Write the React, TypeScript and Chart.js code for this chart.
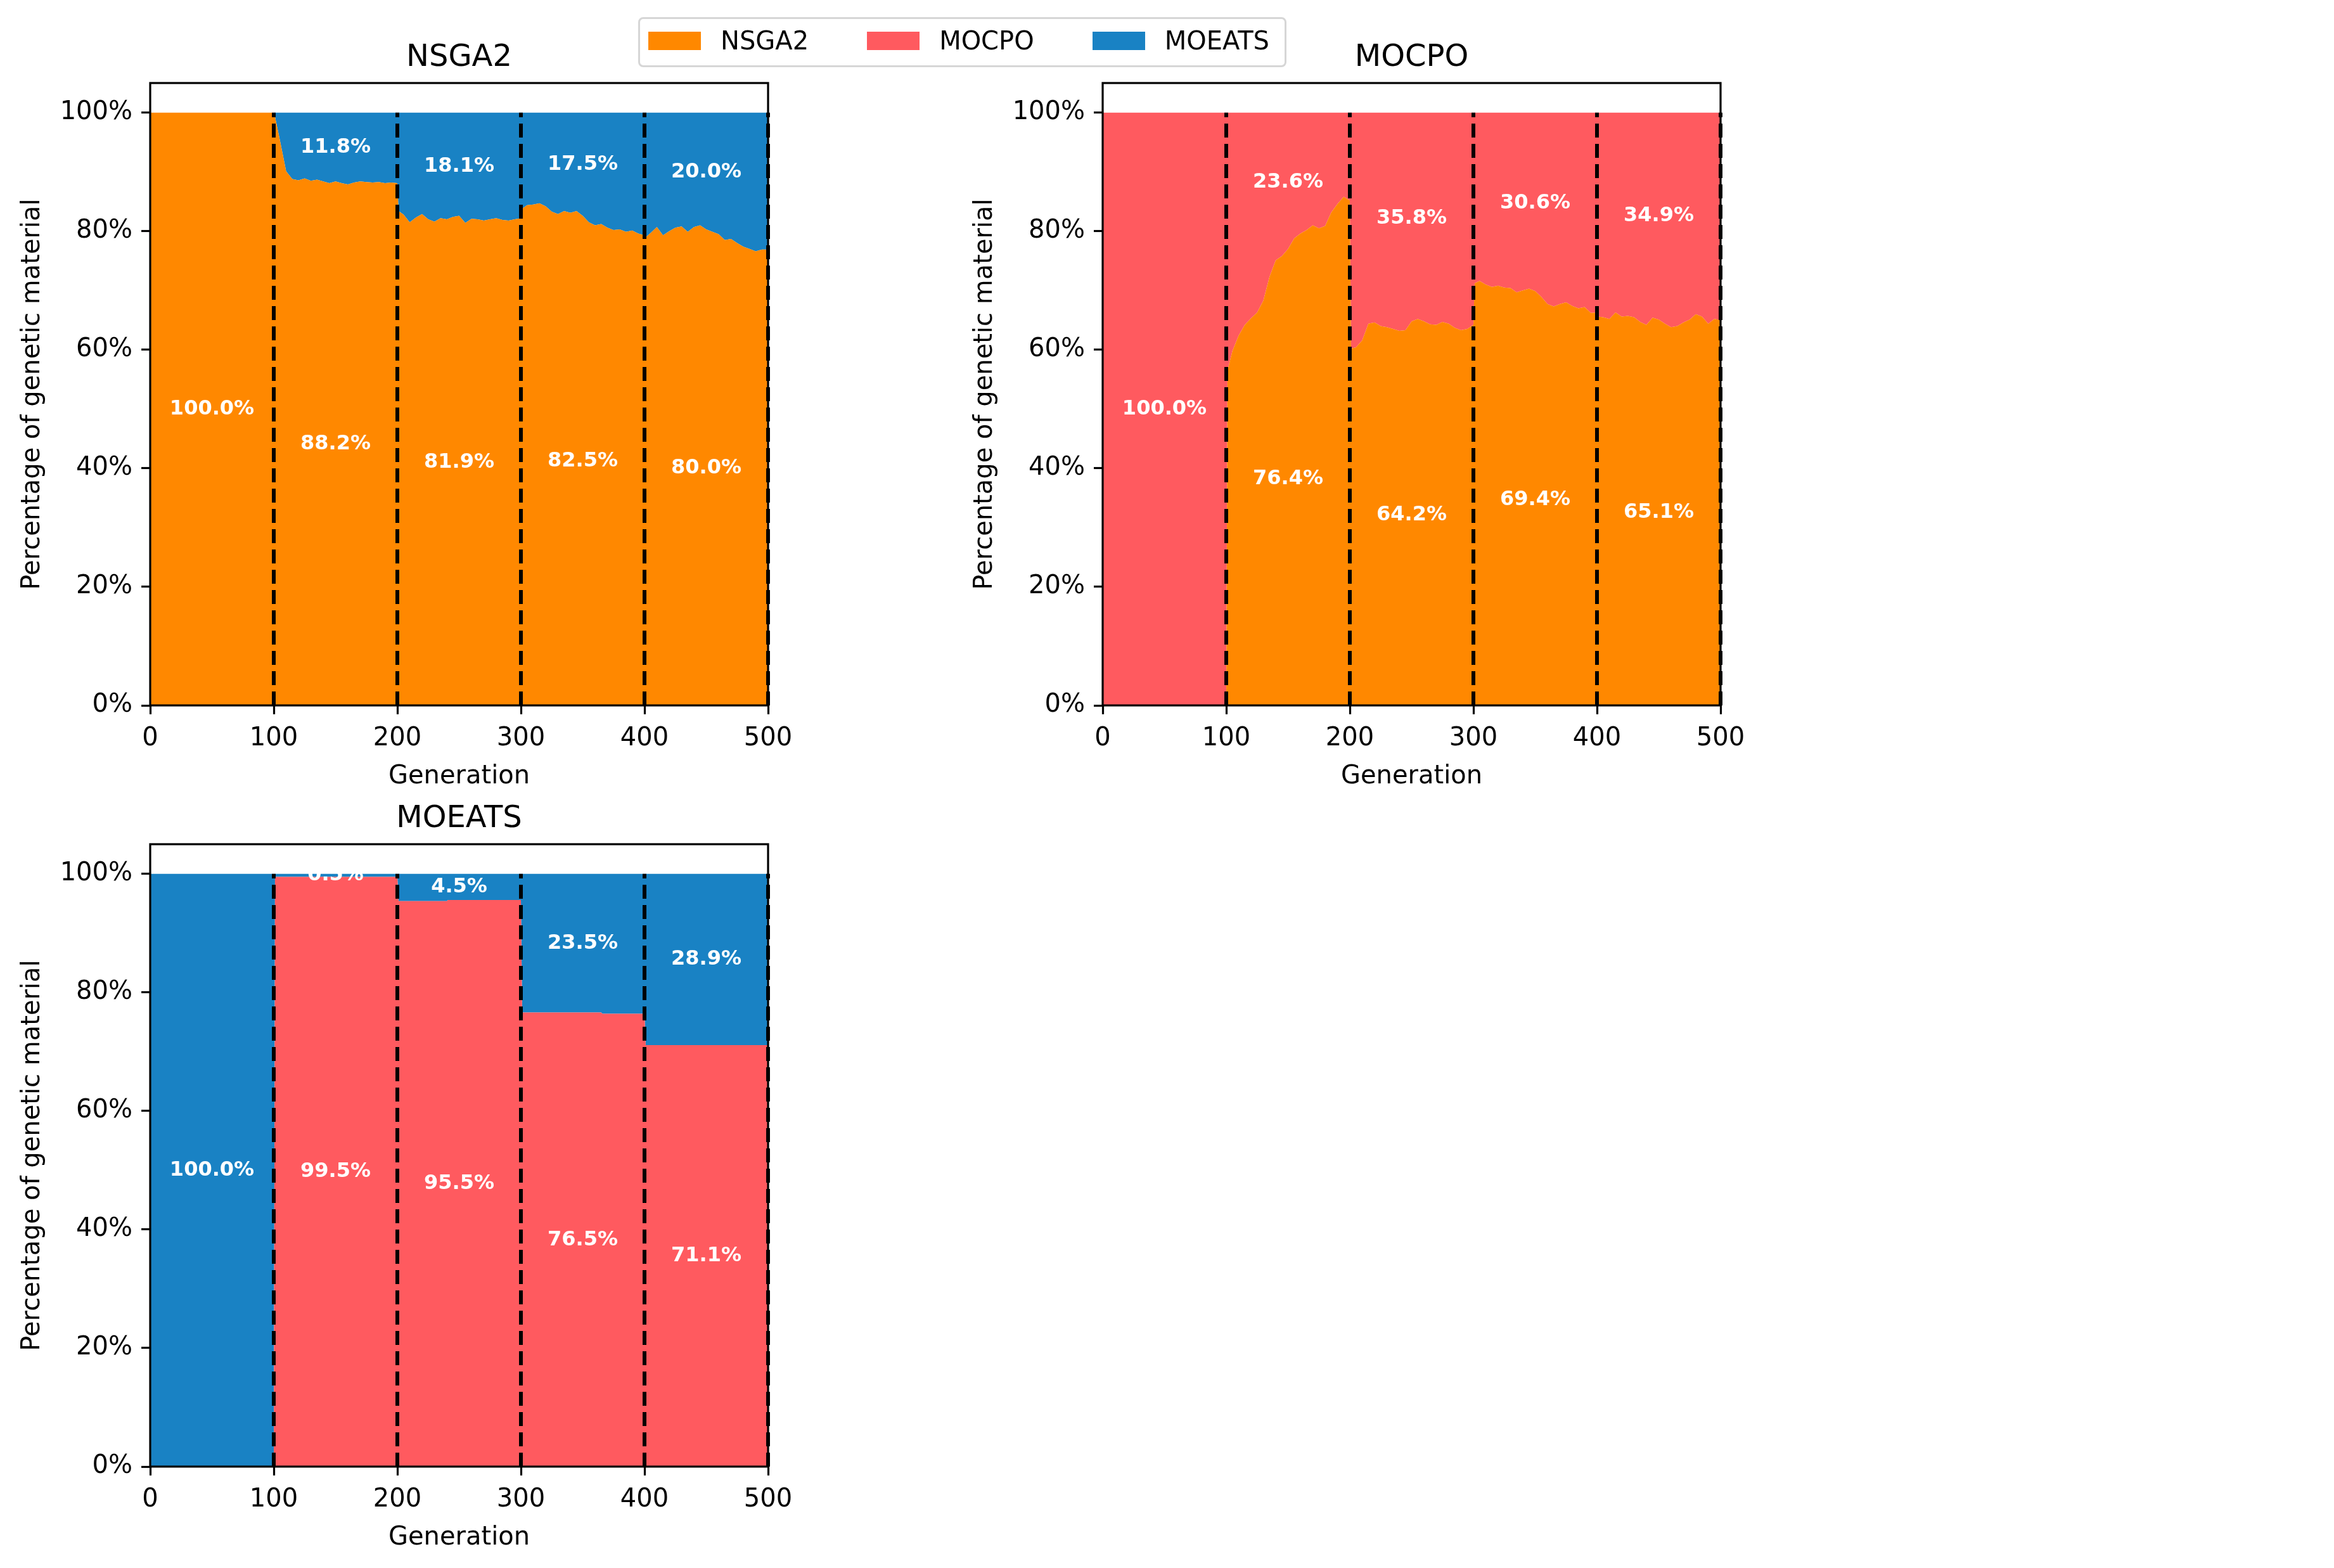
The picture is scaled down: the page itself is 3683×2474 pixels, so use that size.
import React, { useEffect, useRef } from 'react';
import { Chart, registerables } from 'chart.js';

Chart.register(...registerables);
Chart.defaults.font.family = "'DejaVu Sans', sans-serif";
Chart.defaults.color = '#000';

// ---- data -----------------------------------------------------------------

const SERIES_NAMES = ['NSGA2', 'MOCPO', 'MOEATS'];
const SERIES_COLORS = ['#ff8800', '#ff5a5f', '#1982c4'];

const PHASE_BOUNDS = [0, 100, 200, 300, 400, 500];
const X_TICKS = [0, 100, 200, 300, 400, 500];
const Y_TICKS = [0, 20, 40, 60, 80, 100];

// generations sampled for the two noisy runs
const GENS = [
  0, 100,
  101, 105, 110, 115, 120, 125, 130, 135, 140, 145, 150, 155, 160, 165, 170, 175, 180, 185, 190, 195, 200,
  201, 205, 210, 215, 220, 225, 230, 235, 240, 245, 250, 255, 260, 265, 270, 275, 280, 285, 290, 295, 300,
  301, 305, 310, 315, 320, 325, 330, 335, 340, 345, 350, 355, 360, 365, 370, 375, 380, 385, 390, 395, 400,
  401, 405, 410, 415, 420, 425, 430, 435, 440, 445, 450, 455, 460, 465, 470, 475, 480, 485, 490, 495, 500,
];

// run seeded with NSGA2
const NSGA2_RUN_NSGA2 = [
  100, 100,
  99.3, 95.3, 90.1, 88.8, 88.6, 88.9, 88.5, 88.7, 88.4, 88.1, 88.4, 88.1, 87.9, 88.2, 88.4, 88.3, 88.2, 88.3, 88.1, 88.2, 88.1,
  83.4, 82.8, 81.5, 82.3, 82.9, 82.0, 81.6, 82.2, 82.0, 82.4, 82.6, 81.4, 82.1, 82.0, 81.8, 82.0, 82.2, 81.9, 81.8, 82.0, 82.2,
  83.8, 84.4, 84.5, 84.7, 84.2, 83.3, 82.9, 83.4, 83.1, 83.4, 82.6, 81.5, 81.0, 81.2, 80.6, 80.2, 80.3, 79.9, 80.1, 79.6, 79.3,
  79.0, 79.7, 80.7, 79.3, 80.0, 80.6, 80.8, 79.9, 80.7, 81.0, 80.3, 79.9, 79.5, 78.5, 78.7, 78.0, 77.4, 77.0, 76.6, 76.9, 76.9,
];
const NSGA2_RUN_MOEATS = [
  0, 0,
  0.7, 4.7, 9.9, 11.2, 11.4, 11.1, 11.5, 11.3, 11.6, 11.9, 11.6, 11.9, 12.1, 11.8, 11.6, 11.7, 11.8, 11.7, 11.9, 11.8, 11.9,
  16.6, 17.2, 18.5, 17.7, 17.1, 18.0, 18.4, 17.8, 18.0, 17.6, 17.4, 18.6, 17.9, 18.0, 18.2, 18.0, 17.8, 18.1, 18.2, 18.0, 17.8,
  16.2, 15.6, 15.5, 15.3, 15.8, 16.7, 17.1, 16.6, 16.9, 16.6, 17.4, 18.5, 19.0, 18.8, 19.4, 19.8, 19.7, 20.1, 19.9, 20.4, 20.7,
  21.0, 20.3, 19.3, 20.7, 20.0, 19.4, 19.2, 20.1, 19.3, 19.0, 19.7, 20.1, 20.5, 21.5, 21.3, 22.0, 22.6, 23.0, 23.4, 23.1, 23.1,
];
const NSGA2_PHASE_NSGA2 = [100.0, 88.2, 81.9, 82.5, 80.0];
const NSGA2_PHASE_MOEATS = [0, 11.8, 18.1, 17.5, 20.0];

// run seeded with MOCPO
const MOCPO_RUN_NSGA2 = [
  0, 0,
  56.5, 59.8, 62.4, 64.2, 65.3, 66.3, 68.3, 72.3, 75.1, 75.8, 77.0, 78.8, 79.6, 80.2, 81.0, 80.5, 80.9, 83.2, 84.6, 85.8, 85.2,
  60.2, 60.4, 61.6, 64.4, 64.6, 64.0, 63.8, 63.5, 63.2, 63.3, 64.8, 65.2, 64.8, 64.3, 64.2, 64.7, 64.4, 63.7, 63.3, 63.5, 64.2,
  71.2, 71.6, 71.0, 70.6, 70.8, 70.5, 70.4, 69.7, 70.0, 70.3, 69.9, 68.9, 67.7, 67.3, 67.7, 68.0, 67.4, 67.0, 67.2, 66.2, 66.3,
  65.6, 65.5, 65.2, 66.3, 65.6, 65.7, 65.5, 64.7, 64.2, 65.4, 65.1, 64.4, 63.8, 64.0, 64.6, 65.1, 66.0, 65.6, 64.4, 65.2, 65.0,
];
const MOCPO_RUN_MOCPO = [
  100, 100,
  43.5, 40.2, 37.6, 35.8, 34.7, 33.7, 31.7, 27.7, 24.9, 24.2, 23.0, 21.2, 20.4, 19.8, 19.0, 19.5, 19.1, 16.8, 15.4, 14.2, 14.8,
  39.8, 39.6, 38.4, 35.6, 35.4, 36.0, 36.2, 36.5, 36.8, 36.7, 35.2, 34.8, 35.2, 35.7, 35.8, 35.3, 35.6, 36.3, 36.7, 36.5, 35.8,
  28.8, 28.4, 29.0, 29.4, 29.2, 29.5, 29.6, 30.3, 30.0, 29.7, 30.1, 31.1, 32.3, 32.7, 32.3, 32.0, 32.6, 33.0, 32.8, 33.8, 33.7,
  34.4, 34.5, 34.8, 33.7, 34.4, 34.3, 34.5, 35.3, 35.8, 34.6, 34.9, 35.6, 36.2, 36.0, 35.4, 34.9, 34.0, 34.4, 35.6, 34.8, 35.0,
];
const MOCPO_PHASE_NSGA2 = [0, 76.4, 64.2, 69.4, 65.1];
const MOCPO_PHASE_MOCPO = [100.0, 23.6, 35.8, 30.6, 34.9];

// run seeded with MOEATS (almost flat inside each phase)
const MOEATS_GENS = [0, 100, 101, 200, 201, 240, 241, 300, 301, 365, 366, 400, 401, 500];
const MOEATS_RUN_MOCPO = [0, 0, 99.5, 99.5, 95.4, 95.4, 95.6, 95.6, 76.6, 76.6, 76.4, 76.4, 71.1, 71.1];
const MOEATS_RUN_MOEATS = [100, 100, 0.5, 0.5, 4.6, 4.6, 4.4, 4.4, 23.4, 23.4, 23.6, 23.6, 28.9, 28.9];
const MOEATS_PHASE_MOCPO = [0, 99.5, 95.5, 76.5, 71.1];
const MOEATS_PHASE_MOEATS = [100.0, 0.5, 4.5, 23.5, 28.9];

// ---- layout ---------------------------------------------------------------

const PANEL_W = 1292;
const PANEL_H = 1273;
const Y_AXIS_W = 237;
const X_AXIS_H = 160;
const RIGHT_PAD = 80;

type Layer = { series: number; values: number[]; phase: number[] };
type PanelSpec = { title: string; gens: number[]; layers: Layer[] };

const PANELS: { spec: PanelSpec; left: number; top: number }[] = [
  {
    spec: {
      title: 'NSGA2',
      gens: GENS,
      layers: [
        { series: 0, values: NSGA2_RUN_NSGA2, phase: NSGA2_PHASE_NSGA2 },
        { series: 2, values: NSGA2_RUN_MOEATS, phase: NSGA2_PHASE_MOEATS },
      ],
    },
    left: 0,
    top: 0,
  },
  {
    spec: {
      title: 'MOCPO',
      gens: GENS,
      layers: [
        { series: 0, values: MOCPO_RUN_NSGA2, phase: MOCPO_PHASE_NSGA2 },
        { series: 1, values: MOCPO_RUN_MOCPO, phase: MOCPO_PHASE_MOCPO },
      ],
    },
    left: 1503,
    top: 0,
  },
  {
    spec: {
      title: 'MOEATS',
      gens: MOEATS_GENS,
      layers: [
        { series: 1, values: MOEATS_RUN_MOCPO, phase: MOEATS_PHASE_MOCPO },
        { series: 2, values: MOEATS_RUN_MOEATS, phase: MOEATS_PHASE_MOEATS },
      ],
    },
    left: 0,
    top: 1201,
  },
];

// dashed phase boundaries, per-phase share labels and the axes frame
const phasePlugin = {
  id: 'phaseDecor',
  afterDatasetsDraw(chart: any, _args: any, opts: any) {
    const { ctx, scales } = chart;
    const xs = scales.x;
    const ys = scales.y;
    ctx.save();
    ctx.strokeStyle = '#000';
    ctx.lineWidth = 6;
    ctx.setLineDash([22, 10]);
    for (const b of PHASE_BOUNDS.slice(1)) {
      const px = xs.getPixelForValue(b);
      ctx.beginPath();
      ctx.moveTo(px, ys.getPixelForValue(0));
      ctx.lineTo(px, ys.getPixelForValue(100));
      ctx.stroke();
    }
    ctx.setLineDash([]);
    ctx.fillStyle = '#fff';
    ctx.font = "bold 32px 'DejaVu Sans'";
    ctx.textAlign = 'center';
    ctx.textBaseline = 'middle';
    const layers: Layer[] = opts.layers;
    for (let p = 0; p < PHASE_BOUNDS.length - 1; p++) {
      const cx = xs.getPixelForValue((PHASE_BOUNDS[p] + PHASE_BOUNDS[p + 1]) / 2);
      let base = 0;
      for (const layer of layers) {
        const v = layer.phase[p];
        if (v > 0) {
          ctx.fillText(`${v.toFixed(1)}%`, cx, ys.getPixelForValue(base + v / 2));
        }
        base += v;
      }
    }
    ctx.restore();
  },
  afterDraw(chart: any) {
    const { ctx, chartArea } = chart;
    ctx.save();
    ctx.strokeStyle = '#000';
    ctx.lineWidth = 3.2;
    ctx.strokeRect(chartArea.left, chartArea.top, chartArea.right - chartArea.left, chartArea.bottom - chartArea.top);
    ctx.restore();
  },
};

function buildConfig(spec: PanelSpec): any {
  const datasets = spec.layers.map((layer, i) => ({
    label: SERIES_NAMES[layer.series],
    data: spec.gens.map((g, k) => ({ x: g, y: layer.values[k] })),
    backgroundColor: SERIES_COLORS[layer.series],
    borderColor: 'transparent',
    borderWidth: 0,
    pointRadius: 0,
    tension: 0,
    fill: i === 0 ? 'origin' : '-1',
  }));
  return {
    type: 'line',
    data: { datasets },
    plugins: [phasePlugin],
    options: {
      animation: false,
      responsive: false,
      devicePixelRatio: 1,
      events: [],
      layout: { padding: { left: 0, top: 0, right: RIGHT_PAD, bottom: 0 } },
      plugins: {
        legend: { display: false },
        tooltip: { enabled: false },
        title: {
          display: true,
          text: spec.title,
          fullSize: false,
          color: '#000',
          font: { size: 48, weight: 'normal', lineHeight: 1.2 },
          padding: { top: 63, bottom: 10.4 },
        },
        phaseDecor: { layers: spec.layers },
      },
      scales: {
        x: {
          type: 'linear',
          min: 0,
          max: 500,
          afterBuildTicks: (scale: any) => {
            scale.ticks = X_TICKS.map((value) => ({ value }));
          },
          afterFit: (scale: any) => {
            scale.height = X_AXIS_H;
          },
          border: { display: false },
          grid: {
            display: true,
            drawOnChartArea: false,
            drawTicks: true,
            tickLength: 14,
            tickWidth: 3.2,
            tickColor: '#000',
            color: '#000',
          },
          ticks: { color: '#000', font: { size: 40 }, padding: 15, maxRotation: 0, autoSkip: false },
          title: {
            display: true,
            text: 'Generation',
            color: '#000',
            font: { size: 40, lineHeight: 1.2 },
            padding: { top: 23, bottom: 23 },
          },
        },
        y: {
          type: 'linear',
          stacked: true,
          min: 0,
          max: 105,
          afterBuildTicks: (scale: any) => {
            scale.ticks = Y_TICKS.map((value) => ({ value }));
          },
          afterFit: (scale: any) => {
            scale.width = Y_AXIS_W;
          },
          border: { display: false },
          grid: {
            display: true,
            drawOnChartArea: false,
            drawTicks: true,
            tickLength: 14,
            tickWidth: 3.2,
            tickColor: '#000',
            color: '#000',
          },
          ticks: {
            color: '#000',
            font: { size: 40 },
            padding: 14,
            autoSkip: false,
            callback: (v: number) => `${v}%`,
          },
          title: {
            display: true,
            text: 'Percentage of genetic material',
            color: '#000',
            font: { size: 40, lineHeight: 1.2 },
            padding: { top: 28, bottom: 28 },
          },
        },
      },
    },
  };
}

function StackPanel({ spec, left, top }: { spec: PanelSpec; left: number; top: number }) {
  const ref = useRef<HTMLCanvasElement>(null);
  useEffect(() => {
    const chart = new Chart(ref.current as HTMLCanvasElement, buildConfig(spec));
    return () => chart.destroy();
  }, [spec]);
  return (
    <canvas
      ref={ref}
      width={PANEL_W}
      height={PANEL_H}
      style={{ position: 'absolute', left, top, width: PANEL_W, height: PANEL_H }}
    />
  );
}

function SharedLegend() {
  return (
    <div
      style={{
        position: 'absolute',
        left: 1007,
        top: 27,
        width: 1023,
        height: 79,
        boxSizing: 'border-box',
        border: '3px solid #d6d6d6',
        borderRadius: 8,
        background: 'rgba(255,255,255,0.8)',
        display: 'flex',
        alignItems: 'flex-start',
        paddingLeft: 13,
        fontFamily: "'DejaVu Sans', sans-serif",
        fontSize: 40,
        lineHeight: '40px',
        color: '#000',
        whiteSpace: 'nowrap',
      }}
    >
      {SERIES_NAMES.map((name, i) => (
        <div key={name} style={{ display: 'flex', alignItems: 'flex-start', marginRight: i < 2 ? 92 : 0 }}>
          <span
            style={{ display: 'block', width: 83, height: 29, marginTop: 20, marginRight: 31, background: SERIES_COLORS[i] }}
          />
          <span style={{ display: 'block', marginTop: 14 }}>{name}</span>
        </div>
      ))}
    </div>
  );
}

export default function App() {
  return (
    <div
      style={{
        position: 'absolute',
        left: 0,
        top: 0,
        width: 3683,
        height: 2474,
        background: '#fff',
        overflow: 'hidden',
      }}
    >
      {PANELS.map((p) => (
        <StackPanel key={p.spec.title} spec={p.spec} left={p.left} top={p.top} />
      ))}
      <SharedLegend />
    </div>
  );
}
